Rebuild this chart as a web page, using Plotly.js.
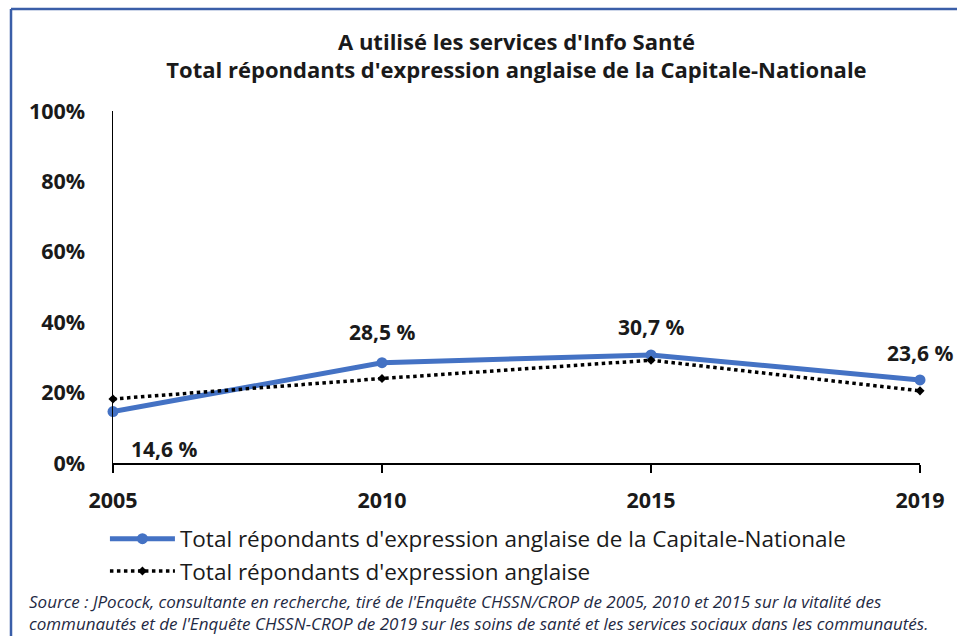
<!DOCTYPE html>
<html>
<head>
<meta charset="utf-8">
<script src="https://cdn.plot.ly/plotly-3.0.1.min.js"></script>
<style>html,body{margin:0;padding:0;background:#fff;}#chart{width:957px;height:636px;}</style>
</head>
<body>
<div id="chart"></div>
<script>
const years = ['2005', '2010', '2015', '2019'];
const capitaleNationale = [0.146, 0.285, 0.307, 0.236];
const totalAnglais = [0.182, 0.240, 0.292, 0.205];
const labelsCN = ['14,6 %', '28,5 %', '30,7 %', '23,6 %'];
const nameCN = "Total répondants d'expression anglaise de la Capitale-Nationale";
const nameTotal = "Total répondants d'expression anglaise";
const titleText = "<b>A utilisé les services d'Info Santé</b><br><b>Total répondants d'expression anglaise de la Capitale-Nationale</b>";
const sourceText = "<i>Source : JPocock, consultante en recherche, tiré de l'Enquête CHSSN/CROP de 2005, 2010 et 2015 sur la vitalité des</i><br><i>communautés et de l'Enquête CHSSN-CROP de 2019 sur les soins de santé et les services sociaux dans les communautés.</i>";

const FONT = '"Open Sans", Lato, sans-serif';

const traces = [
  {
    x: years, y: capitaleNationale, name: nameCN, type: 'scatter', mode: 'lines+markers',
    line: {color: '#4472C4', width: 5},
    marker: {color: '#4472C4', size: 11, symbol: 'circle'},
    cliponaxis: false
  },
  {
    x: years, y: totalAnglais, name: nameTotal, type: 'scatter', mode: 'lines+markers',
    line: {color: '#000000', width: 3.5, dash: 'dot'},
    marker: {color: '#000000', size: 7, symbol: 'diamond'},
    cliponaxis: false
  }
];

const labelShift = [[51, -37], [0, 31], [0, 28], [0, 27]];
const annotations = years.map((yr, i) => ({
  x: i, y: capitaleNationale[i], xref: 'x', yref: 'y',
  text: '<b>' + labelsCN[i] + '</b>', showarrow: false,
  xshift: labelShift[i][0], yshift: labelShift[i][1],
  font: {family: FONT, size: 21, color: '#1a1a1a'}
}));
annotations.push({
  xref: 'paper', yref: 'paper', x: -0.107, y: -0.355, xanchor: 'left', yanchor: 'top',
  align: 'left', showarrow: false, text: sourceText,
  font: {family: FONT, size: 17, color: '#1f2a44'}
});

const layout = {
  width: 957, height: 636,
  margin: {l: 113, r: 37, t: 111, b: 173},
  paper_bgcolor: '#ffffff', plot_bgcolor: '#ffffff',
  font: {family: FONT, color: '#1a1a1a'},
  title: {text: titleText, x: 0.5, xref: 'paper', xanchor: 'center', y: 0.922, yanchor: 'top',
          font: {family: FONT, size: 22, color: '#1a1a1a'}},
  showlegend: true,
  legend: {x: -0.01, y: -0.155, xanchor: 'left', yanchor: 'top', orientation: 'v',
           font: {family: FONT, size: 22.5, color: '#1a1a1a'}, tracegroupgap: 2, itemwidth: 65},
  xaxis: {
    type: 'category', range: [0, 3], showgrid: false, zeroline: false,
    showline: true, linecolor: '#000', linewidth: 1.5,
    ticks: 'outside', ticklen: 8, tickcolor: '#000', tickwidth: 1.5,
    tickfont: {family: FONT, size: 21.5, weight: 'bold', color: '#1a1a1a'},
    ticklabelstandoff: 10
  },
  yaxis: {
    range: [0, 1], dtick: 0.2, tickformat: '.0%', showgrid: false, zeroline: false,
    showline: true, linecolor: '#000', linewidth: 1.5, ticks: '',
    tickfont: {family: FONT, size: 21.5, weight: 'bold', color: '#1a1a1a'},
    ticklabelstandoff: 22
  },
  annotations: annotations,
  shapes: [
    {type: 'line', xref: 'paper', yref: 'paper', xsizemode: 'pixel', ysizemode: 'pixel',
     xanchor: 0, yanchor: 1, x0: -102, x1: -102, y0: 102, y1: -600,
     line: {color: '#3a5ea8', width: 2.5}},
    {type: 'line', xref: 'paper', yref: 'paper', xsizemode: 'pixel', ysizemode: 'pixel',
     xanchor: 0, yanchor: 1, x0: -102, x1: 900, y0: 102, y1: 102,
     line: {color: '#3a5ea8', width: 2.5}}
  ]
};

Plotly.newPlot('chart', traces, layout, {displayModeBar: false, staticPlot: true});
</script>
</body>
</html>
